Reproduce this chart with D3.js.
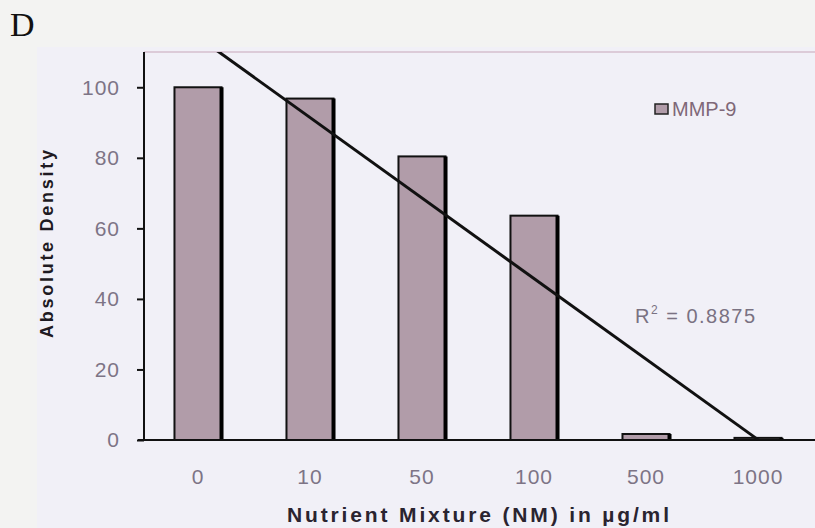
<!DOCTYPE html>
<html>
<head>
<meta charset="utf-8">
<script src="https://cdn.jsdelivr.net/npm/d3@7"></script>
<style>
  html, body { margin: 0; padding: 0; background: #f3f3f2; }
  svg { display: block; }
</style>
</head>
<body>
<div id="chart"></div>
<script>
// chart values
const doses = ["0", "10", "50", "100", "500", "1000"];
const mmp9 = [100, 96.8, 80.4, 63.6, 1.7, 0.6];
const yTicks = [0, 20, 40, 60, 80, 100];
const rSquared = "0.8875";
const seriesName = "MMP-9";

const width = 815, height = 528;
const margin = { top: 52, right: 1, bottom: 87, left: 144 };

const svg = d3.select("#chart")
    .append("svg")
    .attr("width", width)
    .attr("height", height);

// chart area (lavender tint of the scan)
svg.append("rect")
    .attr("x", 37).attr("y", 47)
    .attr("width", width - 37).attr("height", height - 47)
    .attr("fill", "#f1f0f7");

const x = d3.scaleBand()
    .domain(doses)
    .range([142, width - 1])
    .paddingInner(0.58)
    .paddingOuter(0.29);

const y = d3.scaleLinear()
    .domain([0, 110])
    .range([440, margin.top]);

// faint top border of plot area
svg.append("line")
    .attr("x1", margin.left).attr("x2", width)
    .attr("y1", margin.top).attr("y2", margin.top)
    .attr("stroke", "#dccbd8").attr("stroke-width", 2);

// panel letter
svg.append("text")
    .attr("x", 10).attr("y", 36)
    .attr("font-family", "Liberation Serif, serif")
    .attr("font-size", 34)
    .attr("fill", "#111")
    .text("D");

// bars
const bars = svg.append("g").attr("class", "bars");
bars.selectAll("rect.bar")
    .data(mmp9)
    .enter()
    .append("rect")
    .attr("class", "bar")
    .attr("x", (d, i) => x(doses[i]))
    .attr("y", d => y(d))
    .attr("width", x.bandwidth())
    .attr("height", d => y(0) - y(d))
    .attr("fill", "#b19ca9")
    .attr("stroke", "#111")
    .attr("stroke-width", 2);

// darker right edge, like the print shadow
bars.selectAll("line.edge")
    .data(mmp9)
    .enter()
    .append("line")
    .attr("class", "edge")
    .attr("x1", (d, i) => x(doses[i]) + x.bandwidth())
    .attr("x2", (d, i) => x(doses[i]) + x.bandwidth())
    .attr("y1", d => y(d))
    .attr("y2", y(0))
    .attr("stroke", "#000")
    .attr("stroke-width", 4);

// y axis
const yAxis = svg.append("g")
    .attr("transform", `translate(${margin.left},0)`)
    .call(d3.axisLeft(y).tickValues(yTicks).tickSize(7).tickPadding(17));
yAxis.select(".domain")
    .attr("d", `M0,${margin.top}V${y(0)}`)
    .attr("stroke", "#111").attr("stroke-width", 2);
yAxis.selectAll(".tick line").attr("stroke", "#111").attr("stroke-width", 2);
yAxis.selectAll(".tick text")
    .attr("font-family", "Liberation Sans, Arial, sans-serif")
    .attr("font-size", 21)
    .attr("letter-spacing", 1)
    .attr("fill", "#7d7486");

// x axis line and labels
svg.append("line")
    .attr("x1", 138).attr("x2", width)
    .attr("y1", y(0)).attr("y2", y(0))
    .attr("stroke", "#111").attr("stroke-width", 2);

const xAxis = svg.append("g")
    .attr("transform", `translate(0,${y(0)})`)
    .call(d3.axisBottom(x).tickSize(0).tickPadding(29));
xAxis.select(".domain").remove();
xAxis.selectAll(".tick text")
    .attr("font-family", "Liberation Sans, Arial, sans-serif")
    .attr("font-size", 21)
    .attr("letter-spacing", 1)
    .attr("fill", "#7d7486");

// linear trendline through the bars (least squares on category index)
const xs = mmp9.map((d, i) => i + 1);
const mx = d3.mean(xs), my = d3.mean(mmp9);
const slope = d3.sum(xs, (v, i) => (v - mx) * (mmp9[i] - my)) / d3.sum(xs, v => (v - mx) ** 2);
const icpt = my - slope * mx;
const cx = i => x(doses[i - 1]) + x.bandwidth() / 2;

svg.append("clipPath").attr("id", "plotclip")
    .append("rect")
    .attr("x", margin.left).attr("y", margin.top)
    .attr("width", width - margin.left).attr("height", y(0) - margin.top + 2);

svg.append("path")
    .datum([1, mmp9.length])
    .attr("clip-path", "url(#plotclip)")
    .attr("d", d3.line().x(v => cx(v)).y(v => y(icpt + slope * v)))
    .attr("stroke", "#111")
    .attr("stroke-width", 3)
    .attr("fill", "none");

// R squared label
const r2 = svg.append("text")
    .attr("x", 635).attr("y", 323)
    .attr("font-family", "Liberation Sans, Arial, sans-serif")
    .attr("font-size", 20)
    .attr("letter-spacing", 1.5)
    .attr("fill", "#7a7282");
r2.append("tspan").text("R");
r2.append("tspan").attr("font-size", 12).attr("dy", -9).text("2");
r2.append("tspan").attr("dy", 9).text(" = " + rSquared);

// legend
const legend = svg.append("g").attr("transform", "translate(655,104)");
legend.append("rect")
    .attr("width", 13).attr("height", 10)
    .attr("fill", "#b19ca9")
    .attr("stroke", "#222").attr("stroke-width", 1.5);
legend.append("text")
    .attr("x", 17).attr("y", 12)
    .attr("font-family", "Liberation Sans, Arial, sans-serif")
    .attr("font-size", 20)
    .attr("fill", "#7f6878")
    .text(seriesName);

// axis titles
svg.append("text")
    .attr("x", (x.range()[0] + x.range()[1]) / 2)
    .attr("y", 522)
    .attr("text-anchor", "middle")
    .attr("font-family", "Liberation Sans, Arial, sans-serif")
    .attr("font-weight", "bold")
    .attr("font-size", 21)
    .attr("textLength", 382)
    .attr("lengthAdjust", "spacing")
    .attr("fill", "#2a2430")
    .text("Nutrient Mixture (NM) in µg/ml");

svg.append("text")
    .attr("transform", "translate(53,244) rotate(-90)")
    .attr("text-anchor", "middle")
    .attr("font-family", "Liberation Sans, Arial, sans-serif")
    .attr("font-weight", "bold")
    .attr("font-size", 18)
    .attr("textLength", 188)
    .attr("lengthAdjust", "spacing")
    .attr("fill", "#1e1a22")
    .text("Absolute Density");
</script>
</body>
</html>
